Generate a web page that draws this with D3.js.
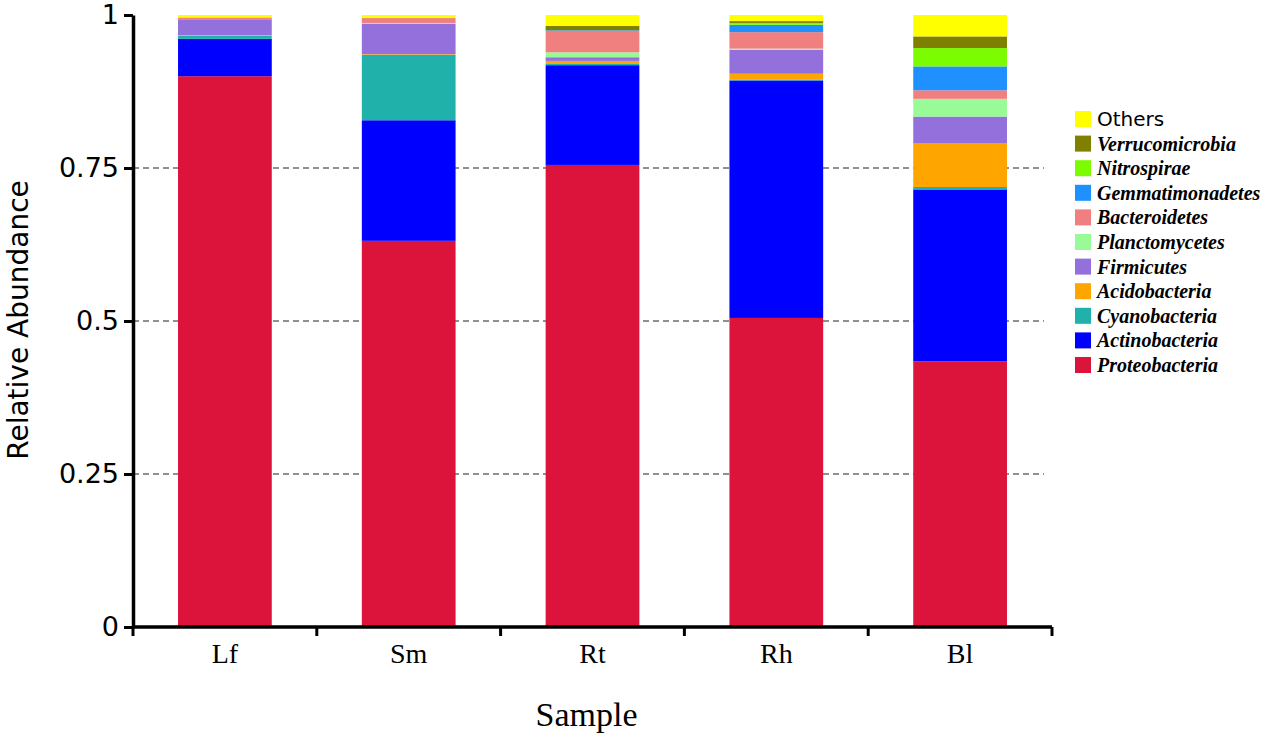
<!DOCTYPE html>
<html>
<head>
<meta charset="utf-8">
<script src="https://cdn.jsdelivr.net/npm/d3@7"></script>
<style>
  body { margin: 0; background: #fff; }
</style>
</head>
<body>
<div id="chart"></div>
<script>
// Samples on the x axis
const samples = ['Lf', 'Sm', 'Rt', 'Rh', 'Bl']

// Phyla, bottom of stack first
const phyla = ['Proteobacteria', 'Actinobacteria', 'Cyanobacteria', 'Acidobacteria', 'Firmicutes',
    'Planctomycetes', 'Bacteroidetes', 'Gemmatimonadetes', 'Nitrospirae', 'Verrucomicrobia', 'Others']

const colors = ['#dc143c', '#0000ff', '#20b2aa', '#ffa500', '#9370db',
    '#98fb98', '#f08080', '#1e90ff', '#7cfc00', '#808000', '#ffff00']

// Relative abundance per phylum, one value per sample (Lf, Sm, Rt, Rh, Bl)
const proteobacteria   = [0.900, 0.631, 0.755, 0.505, 0.434]
const actinobacteria   = [0.061, 0.197, 0.163, 0.388, 0.281]
const cyanobacteria    = [0.005, 0.107, 0.002, 0.001, 0.004]
const acidobacteria    = [0.001, 0.001, 0.005, 0.010, 0.071]
const firmicutes       = [0.026, 0.050, 0.006, 0.039, 0.044]
const planctomycetes   = [0.000, 0.001, 0.008, 0.002, 0.029]
const bacteroidetes    = [0.003, 0.008, 0.035, 0.027, 0.014]
const gemmatimonadetes = [0.000, 0.000, 0.001, 0.012, 0.039]
const nitrospirae      = [0.000, 0.000, 0.000, 0.003, 0.030]
const verrucomicrobia  = [0.000, 0.000, 0.007, 0.003, 0.019]
const others           = [0.004, 0.005, 0.018, 0.010, 0.035]

const yTicks = [0, 0.25, 0.5, 0.75, 1]
const gridTicks = [0.25, 0.5, 0.75]

const series = [proteobacteria, actinobacteria, cyanobacteria, acidobacteria, firmicutes,
    planctomycetes, bacteroidetes, gemmatimonadetes, nitrospirae, verrucomicrobia, others]

// table for d3.stack
const table = samples.map((s, i) => {
    const row = { sample: s }
    phyla.forEach((p, j) => { row[p] = series[j][i] })
    return row
})

const width = 1267
const height = 736
const margin = { left: 133, right: 215, top: 15, bottom: 109 }

const svg = d3.select('#chart')
    .append('svg')
    .attr('width', width)
    .attr('height', height)

const x = d3.scaleBand()
    .domain(samples)
    .range([margin.left, width - margin.right])
    .paddingInner(0.49)
    .paddingOuter(0.245)

const y = d3.scaleLinear()
    .domain([0, 1])
    .range([height - margin.bottom, margin.top])

const color = d3.scaleOrdinal().domain(phyla).range(colors)

// dashed grid lines
svg.append('g')
    .selectAll('line')
    .data(gridTicks)
    .join('line')
    .attr('x1', margin.left)
    .attr('x2', width - margin.right - 8)
    .attr('y1', d => y(d))
    .attr('y2', d => y(d))
    .attr('stroke', '#222')
    .attr('stroke-width', 1)
    .attr('stroke-dasharray', '6,4')

// stacked bars
const stacked = d3.stack().keys(phyla)(table)

svg.append('g')
    .selectAll('g')
    .data(stacked)
    .join('g')
    .attr('fill', d => color(d.key))
    .selectAll('rect')
    .data(d => d)
    .join('rect')
    .attr('x', d => x(d.data.sample))
    .attr('width', x.bandwidth())
    .attr('y', d => y(d[1]))
    .attr('height', d => y(d[0]) - y(d[1]))

// y axis
const yAxis = svg.append('g')
    .attr('transform', `translate(${margin.left},0)`)
    .call(d3.axisLeft(y).tickValues(yTicks).tickFormat(d3.format('')).tickSize(9).tickSizeOuter(0))
yAxis.select('.domain').attr('stroke', '#000').attr('stroke-width', 3.5)
yAxis.selectAll('.tick line').attr('stroke', '#000').attr('stroke-width', 3)
yAxis.selectAll('.tick text')
    .attr('x', -14)
    .attr('font-family', 'DejaVu Sans, sans-serif')
    .attr('font-size', 27)
    .attr('fill', '#000')

// x axis
const x0 = x.range()[0]
const step = x.step()
const boundaries = d3.range(samples.length + 1).map(i => x0 + i * step)

const xAxis = svg.append('g')
    .attr('transform', `translate(0,${y(0)})`)
xAxis.append('line')
    .attr('x1', margin.left - 1)
    .attr('x2', x.range()[1])
    .attr('stroke', '#000')
    .attr('stroke-width', 3.5)
xAxis.selectAll('.btick')
    .data(boundaries)
    .join('line')
    .attr('class', 'btick')
    .attr('x1', d => d)
    .attr('x2', d => d)
    .attr('y1', 0)
    .attr('y2', 9)
    .attr('stroke', '#000')
    .attr('stroke-width', 3)
xAxis.selectAll('text')
    .data(samples)
    .join('text')
    .attr('x', d => x(d) + x.bandwidth() / 2)
    .attr('y', 36)
    .attr('text-anchor', 'middle')
    .attr('font-family', 'Liberation Serif, Times New Roman, serif')
    .attr('font-size', 28)
    .text(d => d)

// axis titles
svg.append('text')
    .attr('x', (x.range()[0] + x.range()[1]) / 2 - 6)
    .attr('y', 726)
    .attr('text-anchor', 'middle')
    .attr('font-family', 'Liberation Serif, Times New Roman, serif')
    .attr('font-size', 34)
    .text('Sample')

svg.append('text')
    .attr('transform', 'translate(28,320) rotate(-90)')
    .attr('text-anchor', 'middle')
    .attr('font-family', 'DejaVu Sans, sans-serif')
    .attr('font-size', 28)
    .text('Relative Abundance')

// legend, top entry is Others
const legendItems = phyla.slice().reverse()
const legend = svg.append('g')
    .attr('transform', 'translate(1075,111)')
    .selectAll('g')
    .data(legendItems)
    .join('g')
    .attr('transform', (d, i) => `translate(0,${i * 24.6})`)

legend.append('rect')
    .attr('width', 16)
    .attr('height', 16)
    .attr('fill', d => color(d))

legend.append('text')
    .attr('x', 22)
    .attr('y', 15)
    .attr('font-family', d => d === 'Others' ? 'DejaVu Sans, sans-serif' : 'Liberation Serif, Times New Roman, serif')
    .attr('font-style', d => d === 'Others' ? 'normal' : 'italic')
    .attr('font-weight', d => d === 'Others' ? 'normal' : 'bold')
    .attr('font-size', 20)
    .text(d => d)
</script>
</body>
</html>
